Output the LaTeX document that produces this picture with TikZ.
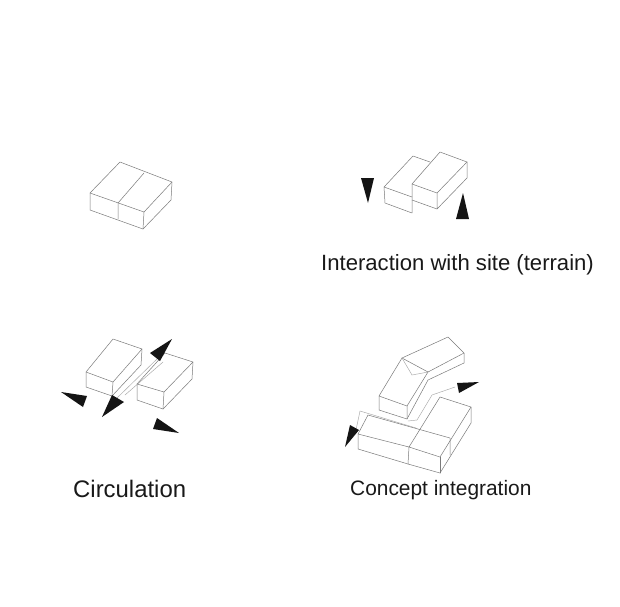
\documentclass[tikz,border=0pt]{standalone}
\usepackage{fontspec}
\setmainfont{Liberation Sans}
\tikzset{
 edge/.style={draw=black!52,line width=0.5pt,line join=round,line cap=round},
 faint/.style={draw=black!35,line width=0.45pt,line cap=round},
 wedge/.style={fill=black!92,draw=none},
 label/.style={inner sep=0pt,anchor=base west,text=black!90}
}
\begin{document}
\begin{tikzpicture}[x=1pt,y=-1pt]
\useasboundingbox[fill=white] (0,0) rectangle (620,606);
% box 1
\draw[edge] (120,162)--(172,182)--(144,212)--(90,193)--cycle;
\draw[edge] (90,193)--(90,210)--(143,229)--(171,200)--(172,182);
\draw[edge] (144,212)--(143,229);
\draw[edge] (144,173)--(118,203)--(118,219);
% box 2
\draw[edge] (430,162)--(413,156)--(384,187)--(385,203)--(412,213)--(412,184);
\draw[edge] (384,187)--(412,197);
\draw[edge] (412,200)--(437,209);
\draw[edge] (440,152)--(467,162)--(437,193)--(412,184)--cycle;
\draw[edge] (467,162)--(467,178)--(437,209)--(437,193);
\draw[wedge] (361,178)--(374,178)--(368,203)--cycle;
\draw[wedge] (463,193)--(456,219)--(469,219)--cycle;
% circulation
\draw[edge] (113,339)--(142,349)--(113,382)--(86,372)--cycle;
\draw[edge] (86,372)--(86,387)--(112,396)--(141,365)--(142,349);
\draw[edge] (113,382)--(112,396);
\draw[edge] (165,353)--(193,362)--(164,392)--(137,384);
\draw[edge] (137,384)--(137,400)--(163,409)--(192,379)--(193,362);
\draw[edge] (164,392)--(163,409);
\draw[edge] (137,384)--(165,353);
\draw[faint] (117,398)--(158,358);
\draw[faint] (125,395)--(163,362);
\draw[wedge] (61,392)--(87,396)--(83,407)--cycle;
\draw[wedge] (112,395)--(124,402)--(102,417)--cycle;
\draw[wedge] (172,339)--(150,353)--(160,361)--cycle;
\draw[wedge] (157,418)--(179,433)--(153,429)--cycle;
% concept upper
\draw[edge] (402,358)--(448,337)--(464,353)--(428,372)--(407,406)--(379,396)--cycle;
\draw[edge] (402,358)--(428,372);
\draw[faint] (402,358)--(412,375)--(428,372);
\draw[edge] (379,396)--(379,410)--(407,419)--(407,406);
\draw[edge] (407,419)--(428,380)--(464,363)--(464,353);
\draw[faint] (408,421)--(417,420)--(432,395)--(455,387);
% concept lower
\draw[edge] (368,415)--(358,434)--(409,447)--(440,457)--(471,407)--(440,397)--(409,447);
\draw[edge] (368,415)--(450,438)--(450,455);
\draw[edge] (358,434)--(358,449)--(408,464)--(440,473)--(471,423)--(471,407);
\draw[edge] (409,447)--(408,464);
\draw[edge] (440,457)--(440,473);
\draw[faint] (360,411)--(416,428);
\draw[faint] (360,411)--(356,430);
\draw[wedge] (350,425)--(359,430)--(345,447)--cycle;
\draw[wedge] (457,383)--(479,382)--(459,393)--cycle;
% labels
\node[label,font=\fontsize{22.1}{25}\selectfont] (t1) at (321,270) {Interaction with site (terrain)};
\node[label,font=\fontsize{23.9}{27}\selectfont] (t2) at (73,497) {Circulation};
\node[label,font=\fontsize{20.9}{24}\selectfont] (t3) at (350,495) {Concept integration};
\end{tikzpicture}
\end{document}
